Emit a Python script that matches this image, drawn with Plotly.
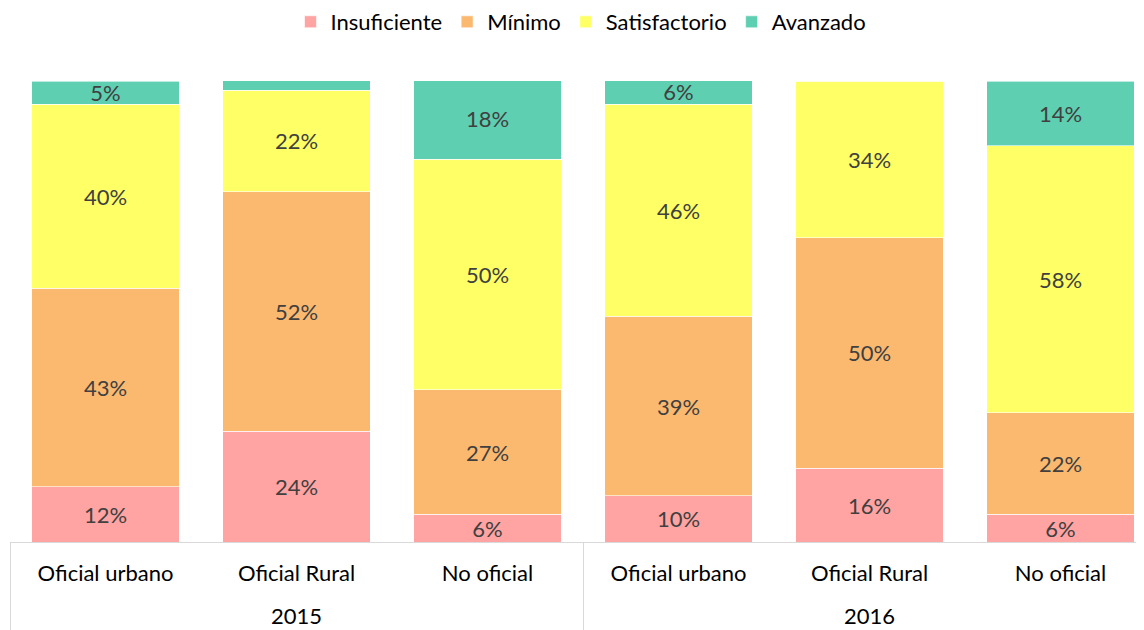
import plotly.graph_objects as go

years = ["2015", "2015", "2015", "2016", "2016", "2016"]
sectors = ["Oficial urbano", "Oficial Rural", "No oficial",
           "Oficial urbano", "Oficial Rural", "No oficial"]

series_names = ["Insuficiente", "Mínimo", "Satisfactorio", "Avanzado"]
insuficiente = [12, 24, 6, 10, 16, 6]
minimo = [43, 52, 27, 39, 50, 22]
satisfactorio = [40, 22, 50, 46, 34, 58]
avanzado = [5, 2.2, 17.6, 5.6, 0.3, 14]
colors = ["#FFA3A3", "#FBB970", "#FFFF66", "#5ECFB1"]

# small blank line under each sector label to push the year row down
sector_ticks = [s + "<br><span style='font-size:10px'> </span>" for s in sectors]

fig = go.Figure()
for name, vals, col in zip(series_names,
                           [insuficiente, minimo, satisfactorio, avanzado],
                           colors):
    txt = [f"{v:.0f}%" if v >= 3 else "" for v in vals]
    fig.add_trace(go.Bar(
        x=[years, sector_ticks], y=vals, name=name,
        marker=dict(color=col, line=dict(color="rgba(255,255,255,0.6)", width=1)),
        text=txt, textposition="inside", insidetextanchor="middle",
        textfont=dict(color="#404040", size=22, family="Lato"),
        hoverinfo="skip",
    ))

fig.update_layout(
    barmode="stack",
    bargap=0.23,
    width=1144, height=622,
    margin=dict(l=2, r=0, t=73, b=88, autoexpand=False),
    paper_bgcolor="white", plot_bgcolor="white",
    font=dict(family="Lato", size=22, color="#000000"),
    uniformtext=dict(minsize=22, mode="show"),
    legend=dict(orientation="h", x=0.5, xanchor="center", y=1.128, yanchor="middle",
                font=dict(size=22, color="#000000"), itemwidth=30, traceorder="normal"),
    showlegend=True,
)
fig.update_xaxes(
    type="multicategory",
    range=[-0.5, 5.479],
    showline=True, linecolor="#D9D9D9", linewidth=1,
    showdividers=True, dividercolor="#D9D9D9", dividerwidth=1,
    ticks="", ticklabelstandoff=12, tickfont=dict(size=22, color="#000000"),
)
fig.update_yaxes(range=[0, 100], visible=False, showgrid=False)

fig.write_html("out.html")
